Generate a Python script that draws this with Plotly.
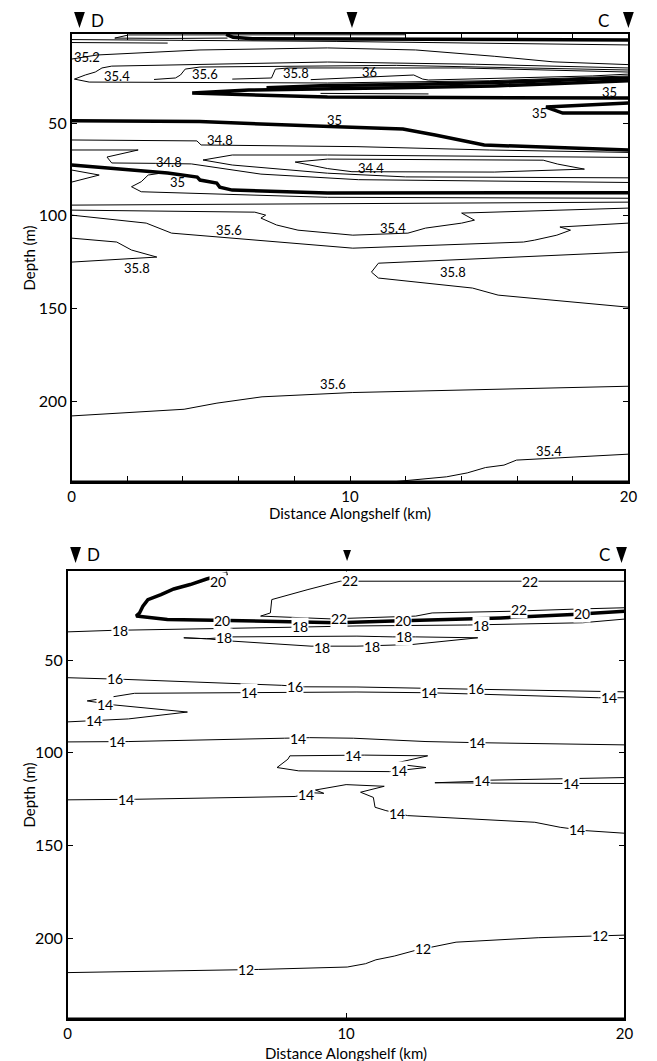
import plotly.graph_objects as go

W, H = 657, 1061
FONT = "Lato"

# ---------------- Salinity section (top) : contour polylines (km, depth m)
sal_wedge_x = [12.0, 5.5, 2.05, 1.55, 3.5, 5.6]
sal_wedge_d = [2.4, 2.3, 2.5, 4.2, 4.4, 4.2]
sal_35top_x = [5.55, 5.8, 6.5, 10, 15, 20]
sal_35top_d = [2.2, 3.8, 4.6, 4.8, 5.0, 5.2]
sal_thin1_x = [0, 9.5, 20]
sal_thin1_d = [5.0, 6.0, 7.9]
sal_short_x = [0, 3.45]
sal_short_d = [6.6, 6.9]
sal_352_x = [0, 0.92, 4.61, 9.19, 12.36, 15.18, 17.29, 20]
sal_352_d = [15.5, 13.3, 10.6, 9.5, 10.6, 14.0, 17.0, 18.5]
sal_354a_x = [20, 14.5, 9.19, 1.44, 1.09, 0.85, 0.49, 0.1, 0.63, 9.19, 15, 20]
sal_354a_d = [20.3, 18.3, 17.1, 19.3, 20.3, 22.5, 24.1, 26.3, 27.9, 28.4, 27.2, 24.6]
sal_356a_x = [2.96, 3.73, 3.91, 4.08, 4.61, 11.66, 20]
sal_356a_d = [26.5, 25.7, 24.1, 20.9, 19.8, 18.9, 21.4]
sal_358a_x = [5.77, 7.18, 7.32, 7.78, 14, 20]
sal_358a_d = [26.3, 25.7, 20.9, 20.3, 20.3, 22.5]
sal_36_x = [8.59, 10.84, 12.29, 12.61, 12.82, 18.7, 20]
sal_36_d = [26.6, 25.2, 24.1, 26.3, 26.8, 24.6, 23.6]
sal_35u_x = [7.0, 9.19, 12, 15.18, 18.7, 20]
sal_35u_d = [31.0, 29.8, 29.2, 28.2, 26.3, 25.7]
sal_35w_x = [20, 18.7, 15.18, 11.65, 9.19, 6.37, 4.33, 6.37, 9.19, 20]
sal_35w_d = [27.2, 28.0, 30.0, 30.9, 31.3, 32.2, 33.8, 34.9, 36.0, 36.5]
sal_inner_x = [8.94, 12.82]
sal_inner_d = [34.0, 34.3]
sal_35r_x = [20, 18.5, 17.04, 17.64, 20]
sal_35r_d = [39.2, 40.2, 41.4, 44.6, 44.6]
sal_35m_x = [0, 4.6, 9.54, 11.9, 13.06, 14.82, 20]
sal_35m_d = [48.7, 49.2, 52.0, 53.2, 56.4, 61.8, 64.5]
sal_348a_x = [0, 4.5, 4.65, 10.25, 15, 20]
sal_348a_d = [59.1, 59.6, 61.8, 62.7, 64.5, 65.8]
sal_346_x = [20, 9.19, 5.77, 4.72, 5.77, 9.19, 12, 16, 20]
sal_346_d = [68.5, 67.2, 67.2, 69.9, 72.6, 77.0, 79.0, 79.3, 79.5]
sal_344_x = [8.03, 9.19, 16.94, 17.46, 18.42, 15.18, 10.07, 9.19, 8.03]
sal_344_d = [71.0, 69.4, 70.0, 72.1, 74.8, 76.4, 76.2, 74.5, 71.0]
sal_348b_x = [0, 2.39, 1.27, 1.44, 3.0, 4.3, 6.8, 10.3, 20]
sal_348b_d = [64.5, 64.5, 68.3, 71.5, 71.7, 72.0, 77.5, 80.5, 82.0]
sal_35b_x = [0, 3.45, 4.51, 4.61, 5.21, 5.32, 5.77, 9.19, 20]
sal_35b_d = [72.6, 76.9, 79.1, 80.7, 82.3, 84.5, 86.1, 87.7, 87.5]
sal_352b_x = [0, 0.99, 0]
sal_352b_d = [75.3, 78.0, 81.8]
sal_352c_x = [3.2, 2.75, 2.5, 2.15, 2.5, 9.19, 20]
sal_352c_d = [77.0, 78.0, 81.6, 84.3, 87.0, 90.0, 90.5]
sal_thin2_x = [0, 10, 20]
sal_thin2_d = [94.2, 93.5, 92.6]
sal_354b_x = [0, 6.58, 6.97, 6.8, 7.36, 8.13, 10.1, 12.08, 12.71, 14.01, 14.47, 14.01, 20]
sal_354b_d = [96.9, 98.0, 99.6, 101.2, 104.9, 107.7, 110.4, 109.3, 106.6, 103.9, 102.3, 98.5, 95.8]
sal_356b_x = [0, 2.68, 3.59, 10.1, 16.23, 16.62, 17.43, 17.92, 17.54, 20]
sal_356b_d = [99.6, 103.9, 109.3, 117.4, 114.1, 113.1, 110.4, 107.7, 106.0, 103.9]
sal_358b_x = [0, 1.62, 2.15, 3.06, 0]
sal_358b_d = [112.0, 114.1, 118.4, 122.2, 124.9]
sal_358c_x = [20, 11.02, 10.77, 11.02, 14.4, 15.32, 20]
sal_358c_d = [119.5, 125.5, 130.3, 133.5, 138.9, 142.7, 149.2]
sal_356c_x = [0, 4.04, 5.22, 6.84, 10.08, 20]
sal_356c_d = [207.8, 204.2, 200.9, 197.5, 195.2, 191.8]
sal_354c_x = [11.26, 13.47, 14.21, 14.87, 15.53, 15.98, 20]
sal_354c_d = [243.7, 240.6, 238.5, 235.6, 234.3, 231.6, 228.4]

sal_lines = [
    (sal_wedge_x, sal_wedge_d, 1), (sal_35top_x, sal_35top_d, 3.5),
    (sal_thin1_x, sal_thin1_d, 1), (sal_short_x, sal_short_d, 1),
    (sal_352_x, sal_352_d, 1), (sal_354a_x, sal_354a_d, 1),
    (sal_356a_x, sal_356a_d, 1), (sal_358a_x, sal_358a_d, 1),
    (sal_36_x, sal_36_d, 1), (sal_35u_x, sal_35u_d, 3.5),
    (sal_35w_x, sal_35w_d, 3.5), (sal_inner_x, sal_inner_d, 1),
    (sal_35r_x, sal_35r_d, 3.5), (sal_35m_x, sal_35m_d, 3.5),
    (sal_348a_x, sal_348a_d, 1), (sal_346_x, sal_346_d, 1),
    (sal_344_x, sal_344_d, 1), (sal_348b_x, sal_348b_d, 1),
    (sal_35b_x, sal_35b_d, 3.5), (sal_352b_x, sal_352b_d, 1),
    (sal_352c_x, sal_352c_d, 1), (sal_thin2_x, sal_thin2_d, 1),
    (sal_354b_x, sal_354b_d, 1), (sal_356b_x, sal_356b_d, 1),
    (sal_358b_x, sal_358b_d, 1), (sal_358c_x, sal_358c_d, 1),
    (sal_356c_x, sal_356c_d, 1), (sal_354c_x, sal_354c_d, 1),
]

sal_label_text = ["35.2", "35.4", "35.6", "35.8", "36", "35", "35", "35", "34.8",
                  "34.8", "35", "34.4", "35.6", "35.4", "35.8", "35.8", "35.6", "35.4"]
sal_label_x = [0.56, 1.62, 4.79, 8.06, 10.7, 19.33, 16.8, 9.44, 5.32,
               3.49, 3.8, 10.77, 5.67, 11.55, 2.36, 13.7, 9.4, 17.15]
sal_label_d = [14.4, 24.6, 23.6, 23.0, 22.5, 33.3, 44.6, 48.4, 59.1,
               71.0, 81.8, 74.2, 107.7, 106.6, 128.1, 130.3, 190.7, 226.6]

# ---------------- Temperature section (bottom)
tem_20a_x = [5.74, 4.99, 4.40, 3.81, 3.35, 2.88, 2.70, 2.58, 2.46, 3.05, 3.58, 5.28, 5.93,
             9.68, 11.68, 12.38, 15.55, 18.13, 18.84, 20.0]
tem_20a_d = [3.2, 6.3, 9.3, 11.7, 14.7, 17.4, 21.0, 24.6, 26.3, 27.3, 28.1, 28.5, 28.7,
             29.9, 29.0, 28.7, 27.3, 25.4, 24.6, 23.7]
tem_22_x = [20.0, 10.63, 9.79, 8.63, 7.57, 7.33, 7.28, 6.93, 9.44, 12.5, 13.09, 15.9, 18.49, 20.0]
tem_22_d = [7.5, 7.5, 7.5, 12.0, 16.5, 17.4, 24.6, 26.3, 27.8, 26.3, 24.6, 23.7, 22.4, 21.8]
tem_18a_x = [0, 1.58, 8.03, 10.39, 14.37, 18.49, 20]
tem_18a_d = [34.8, 34.0, 32.3, 31.6, 31.1, 29.9, 27.9]
tem_18b_x = [4.17, 4.99, 5.93, 10.39, 11.68, 12.5, 14.73, 14.14, 12.38, 10.39, 8.74, 5.93, 4.99, 4.17]
tem_18b_d = [38.0, 38.5, 37.5, 37.1, 37.5, 37.5, 38.0, 38.9, 41.6, 42.5, 42.5, 39.8, 38.5, 38.0]
tem_16_x = [0, 1.35, 2.05, 7.69, 8.51, 10.39, 14.37, 14.96, 20]
tem_16_d = [59.5, 60.0, 60.4, 63.6, 64.4, 64.5, 65.4, 65.8, 67.1]
tem_14a_x = [20, 19.07, 14.85, 12.97, 10.39, 6.16, 2.40, 0.70, 1.69, 4.30, 2.18, 0]
tem_14a_d = [70.3, 70.3, 68.4, 67.6, 67.2, 67.6, 67.9, 72.0, 74.2, 78.0, 81.7, 83.3]
tem_14b_x = [0, 2.17, 7.78, 8.69, 10.26, 12.87, 14.69, 20]
tem_14b_d = [94.1, 93.9, 92.1, 91.8, 92.1, 93.9, 94.5, 95.7]
tem_14c_x = [7.98, 10.0, 10.65, 12.93, 11.69, 12.87, 11.56, 8.30, 7.52, 7.91, 7.98]
tem_14c_d = [101.6, 101.2, 101.2, 101.6, 105.8, 107.9, 110.1, 109.7, 107.9, 103.4, 101.6]
tem_14d_x = [20, 15.21, 14.56, 13.19, 17.69, 20]
tem_14d_d = [113.3, 114.7, 115.4, 116.1, 116.5, 116.5]
tem_14e_x = [0, 2.43, 8.17, 8.8, 9.2, 8.9, 10.0, 11.37, 10.52, 10.98, 11.04, 11.43,
             12.21, 16.78, 17.69, 18.6, 20]
tem_14e_d = [125.3, 125.0, 123.5, 121.5, 121.8, 120.0, 117.1, 118.0, 121.2, 124.0, 129.3, 131.1,
             133.8, 137.4, 140.1, 141.9, 143.3]
tem_12_x = [0, 5.98, 6.86, 10.04, 10.70, 11.07, 11.73, 12.47, 13.06, 13.95, 16.9, 18.67, 19.56, 20]
tem_12_d = [218.4, 216.9, 216.7, 215.4, 213.6, 211.5, 209.5, 206.5, 204.7, 202.0, 199.6, 198.8, 198.4, 198.2]

tem_lines = [
    (tem_20a_x, tem_20a_d, 3.5), (tem_22_x, tem_22_d, 1), (tem_18a_x, tem_18a_d, 1),
    (tem_18b_x, tem_18b_d, 1), (tem_16_x, tem_16_d, 1), (tem_14a_x, tem_14a_d, 1),
    (tem_14b_x, tem_14b_d, 1), (tem_14c_x, tem_14c_d, 1), (tem_14d_x, tem_14d_d, 1),
    (tem_14e_x, tem_14e_d, 1), (tem_12_x, tem_12_d, 1),
]

tem_label_text = ["20", "20", "20", "20", "22", "22", "22", "22",
                  "18", "18", "18", "18", "18", "18", "18",
                  "16", "16", "16",
                  "14", "14", "14", "14", "14", "14", "14", "14", "14", "14", "14",
                  "14", "14", "14", "14", "14",
                  "12", "12", "12"]
tem_label_x = [5.39, 5.56, 12.04, 18.49, 10.14, 16.62, 9.75, 16.2,
               1.87, 8.35, 14.86, 5.63, 12.09, 10.92, 9.15,
               1.70, 8.16, 14.67,
               19.43, 12.97, 6.51, 1.34, 0.95, 1.78, 8.27, 14.69, 10.26, 11.89, 14.89, 18.08,
               2.11, 8.56, 11.82, 18.28,
               6.42, 12.77, 19.11]
tem_label_d = [7.5, 28.5, 28.7, 25.1, 7.0, 7.5, 27.4, 22.8,
               33.9, 32.1, 31.1, 37.6, 37.4, 42.5, 43.0,
               60.0, 64.0, 65.4,
               70.3, 67.6, 67.6, 73.7, 82.8, 94.1, 92.1, 94.5, 101.2, 109.7, 115.1, 116.5,
               125.2, 122.4, 132.4, 141.5,
               216.7, 205.5, 198.6]

fig = go.Figure()

for xs, ds, w in sal_lines:
    fig.add_trace(go.Scatter(x=xs, y=ds, mode="lines", line=dict(color="black", width=w),
                             hoverinfo="skip", showlegend=False, xaxis="x", yaxis="y"))
for xs, ds, w in tem_lines:
    fig.add_trace(go.Scatter(x=xs, y=ds, mode="lines", line=dict(color="black", width=w),
                             hoverinfo="skip", showlegend=False, xaxis="x2", yaxis="y2"))

ann = []
for t, x, d in zip(sal_label_text, sal_label_x, sal_label_d):
    ann.append(dict(x=x, y=d, xref="x", yref="y", text=t, showarrow=False,
                    font=dict(family=FONT, size=13, color="black")))
for t, x, d in zip(tem_label_text, tem_label_x, tem_label_d):
    ann.append(dict(x=x, y=d, xref="x2", yref="y2", text=t, showarrow=False,
                    font=dict(family=FONT, size=14, color="black"),
                    bgcolor="white", borderpad=0))

# axis titles
for xr, y in (("x", 1 - 513 / H), ("x2", 1 - 1053 / H)):
    ann.append(dict(x=0.5, y=y, xref=xr + " domain", yref="paper", text="Distance Alongshelf (km)",
                    yanchor="middle", showarrow=False, font=dict(family=FONT, size=15, color="black")))
for yr in ("y", "y2"):
    ann.append(dict(x=25 / W, y=0.5, xref="paper", yref=yr + " domain", text="Depth (m)",
                    xanchor="center", yanchor="middle",
                    textangle=-90, showarrow=False, font=dict(family=FONT, size=15, color="black")))

# station labels
for xr, x, t, ypx in (("x", 0.92, "D", 20), ("x", 19.12, "C", 20),
                      ("x2", 0.92, "D", 554), ("x2", 19.3, "C", 554)):
    ann.append(dict(x=x, y=1 - ypx / H, xref=xr, yref="paper", text=t, showarrow=False,
                    yanchor="middle", font=dict(family=FONT, size=17, color="black")))

# station triangles (decorations placed in page coordinates so they are not clipped)
shapes = []
def tri(cx_px, ytop_px, ybot_px, half_px):
    yt = 1 - ytop_px / H
    yb = 1 - ybot_px / H
    xl, xr_, xc = (cx_px - half_px) / W, (cx_px + half_px) / W, cx_px / W
    return dict(type="path", xref="paper", yref="paper",
                path=f"M {xl},{yt} L {xr_},{yt} L {xc},{yb} Z",
                fillcolor="black", line=dict(width=0))
shapes.append(tri(77, 12, 28, 5.5))
shapes.append(tri(355, 12, 28, 5.5))
shapes.append(tri(637, 12, 28, 5.5))
shapes.append(tri(73, 547, 563, 5.5))
shapes.append(tri(350, 550, 561, 4))
shapes.append(tri(630, 547, 563, 5.5))

# thick bottom axis lines
for xr, yr in (("x", "y"), ("x2", "y2")):
    shapes.append(dict(type="line", xref=xr + " domain", yref=yr + " domain", x0=0, x1=1, y0=0, y1=0,
                       line=dict(color="black", width=3)))

tick_font = dict(family=FONT, size=15, color="black")
xt_top = list(range(0, 21, 2))
xt_top_txt = [str(v) if v in (0, 10, 20) else "" for v in xt_top]

common_x = dict(range=[0, 20], showgrid=False, zeroline=False, showline=True, linecolor="black",
                linewidth=1.5, mirror="ticks", ticks="inside", ticklen=6, tickcolor="black",
                tickfont=tick_font)
common_y = dict(range=[243.4, 2.0], showgrid=False, zeroline=False, showline=True, linecolor="black",
                linewidth=1.5, mirror="ticks", ticks="inside", ticklen=6, tickcolor="black",
                tickvals=[50, 100, 150, 200], tickfont=dict(family=FONT, size=16, color="black"))

fig.update_layout(
    width=W, height=H, margin=dict(l=0, r=0, t=0, b=0),
    paper_bgcolor="white", plot_bgcolor="white", showlegend=False,
    xaxis=dict(domain=[69 / W, 637 / W], anchor="y", tickvals=xt_top, ticktext=xt_top_txt, **common_x),
    yaxis=dict(domain=[1 - 482 / H, 1 - 34 / H], anchor="x", **common_y),
    xaxis2=dict(domain=[65 / W, 633 / W], anchor="y2", tickvals=[0, 10, 20], **common_x),
    yaxis2=dict(domain=[1 - 1019 / H, 1 - 571 / H], anchor="x2", **common_y),
    annotations=ann, shapes=shapes,
)

fig.write_html("out.html")
